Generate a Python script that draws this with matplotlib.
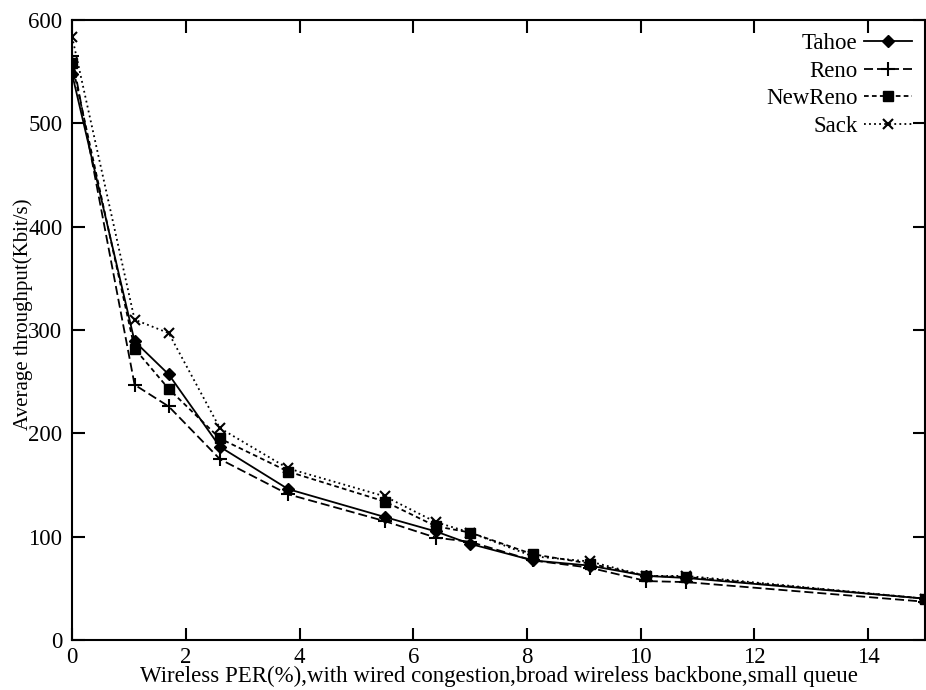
import numpy as np
import matplotlib
matplotlib.use('Agg')
import matplotlib.pyplot as plt

# %% Data

per = [0, 1.1, 1.7, 2.6, 3.8, 5.5, 6.4, 7.0, 8.1, 9.1, 10.1, 10.8, 15]

tahoe = [548, 289, 257, 187, 146, 119, 105, 93, 77, 72, 62, 60, 40]
reno = [565, 247, 226, 175, 141, 115, 99, 95, 77, 70, 57, 56, 37]
newreno = [558, 282, 243, 195, 163, 134, 110, 104, 83, 74, 62, 61, 40]
sack = [584, 310, 297, 205, 166, 139, 114, 104, 81, 76, 62, 62, 40]

x_ticks = [0, 2, 4, 6, 8, 10, 12, 14]
y_ticks = [0, 100, 200, 300, 400, 500, 600]

# %% Plot

plt.rcParams['font.family'] = ['Liberation Serif', 'DejaVu Serif']

fig = plt.figure(figsize=(9.26, 6.9), dpi=100, facecolor='w')
ax = fig.add_axes([0.0778, 0.0725, 0.9212, 0.8985])

lw = 1.3
ax.plot(per, tahoe, color='black', lw=lw, ls='-', marker='D', ms=6, label='Tahoe')
ax.plot(per, reno, color='black', lw=lw, ls=(0, (5, 2.2)), marker='+', ms=10, mew=1.5, label='Reno')
ax.plot(per, newreno, color='black', lw=lw, ls=(0, (2.6, 1.8)), marker='s', ms=6.5, label='NewReno')
ax.plot(per, sack, color='black', lw=lw, ls=(0, (1, 1.8)), marker='x', ms=7.5, mew=1.5, label='Sack')

ax.set_xlim(0, 15)
ax.set_ylim(0, 600)
ax.set_xticks(x_ticks)
ax.set_yticks(y_ticks)
ax.tick_params(direction='in', length=9, width=1.5, top=True, right=True, labelsize=16.5)
ax.tick_params(axis='y', pad=7)
ax.tick_params(axis='x', pad=5)
for s in ax.spines.values():
    s.set_linewidth(1.5)

ax.set_xlabel('Wireless PER(%),with wired congestion,broad wireless backbone,small queue',
              fontsize=16.5, va='top')
ax.xaxis.set_label_coords(0.5, -0.042)
ax.set_ylabel('Average throughput(Kbit/s)', fontsize=15)
ax.yaxis.set_label_coords(-0.046, 0.526)

ax.legend(loc='upper right', frameon=False, markerfirst=False, fontsize=16.5,
          handlelength=2.1, handletextpad=0.3, labelspacing=0.3,
          borderaxespad=0.15, numpoints=1)

plt.savefig('out.png', dpi=100)
